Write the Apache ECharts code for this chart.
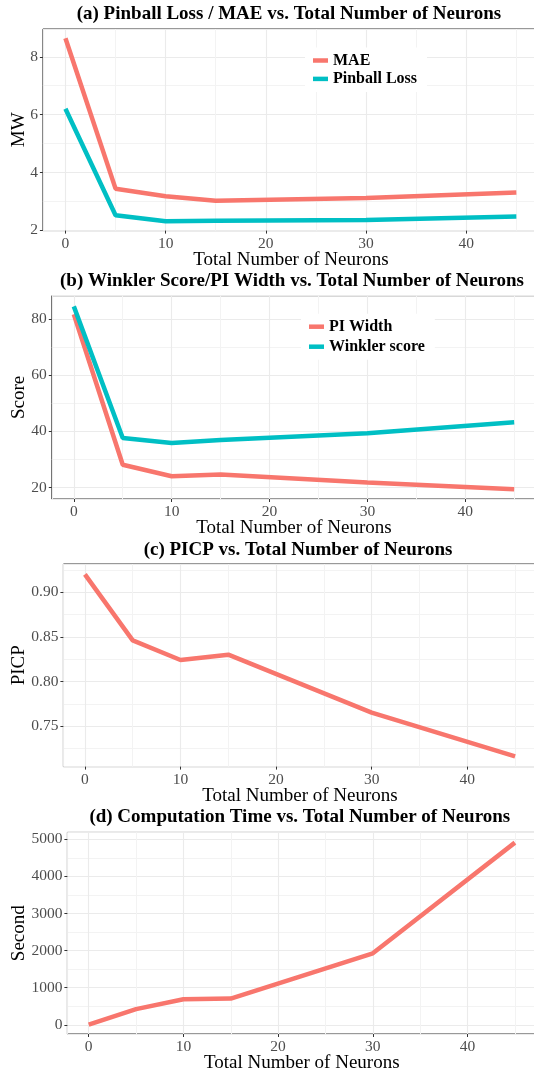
<!DOCTYPE html>
<html>
<head>
<meta charset="utf-8">
<script src="https://cdn.jsdelivr.net/npm/echarts@6/dist/echarts.min.js"></script>
<style>
html,body{margin:0;padding:0;background:#fff}
#main{width:534px;height:1070px}
</style>
</head>
<body>
<div id="main"></div>
<script>
// values
var neurons = [0, 5, 10, 15, 30, 45];
var mae = [8.64, 3.44, 3.18, 3.02, 3.12, 3.31];
var pinball = [6.20, 2.52, 2.31, 2.33, 2.36, 2.48];
var piWidth = [81.6, 28.1, 24.0, 24.6, 21.8, 19.4];
var winkler = [84.4, 37.6, 35.8, 36.9, 39.3, 43.2];
var picp = [0.920, 0.846, 0.824, 0.830, 0.765, 0.716];
var compTime = [5, 421, 688, 707, 1926, 4908];

var titles = [
  '(a) Pinball Loss / MAE vs. Total Number of Neurons',
  '(b) Winkler Score/PI Width vs. Total Number of Neurons',
  '(c) PICP vs. Total Number of Neurons',
  '(d) Computation Time vs. Total Number of Neurons'
];
var xName = 'Total Number of Neurons';
var yNames = ['MW', 'Score', 'PICP', 'Second'];

var RED = '#F8766D', CYAN = '#00BFC4';
var FONT = '"Liberation Serif", "Times New Roman", serif';

// panel boxes [left, top, width, height], y ranges, split numbers
var boxes = [
  [42.9, 29, 496, 201.6],
  [51.8, 295.7, 484.4, 203.3],
  [63.4, 564, 473.2, 202.6],
  [67.4, 832.4, 468.8, 201.6]
];
var yRanges = [[1.99, 8.96], [15.9, 88.2], [0.7046, 0.9316], [-248, 5183]];
var ySplits = [3, 4, 5, 5];
var titleTops = [4.8, 271.8, 540.8, 807.5];

function pairs(ys) {
  return neurons.map(function (x, i) { return [x, ys[i]]; });
}

var grids = [], xAxes = [], yAxes = [], titleList = [];
boxes.forEach(function (b, i) {
  grids.push({
    left: b[0], top: b[1], width: b[2], height: b[3],
    show: true, backgroundColor: '#fff', borderColor: '#333', borderWidth: 1,
    containLabel: false, outerBoundsMode: 'none'
  });
  titleList.push({
    text: titles[i], left: b[0] + b[2] / 2 - 2, top: titleTops[i], textAlign: 'center', padding: 0,
    textStyle: { fontFamily: FONT, fontWeight: 'bold', fontSize: 19, color: '#000' }
  });
  xAxes.push({
    gridIndex: i, type: 'value', min: -2.25, max: 47.25, splitNumber: 5,
    name: xName, nameLocation: 'middle', nameGap: 20, nameMoveOverlap: false,
    nameTextStyle: { fontFamily: FONT, fontSize: 19, color: '#000' },
    axisLine: { show: false, onZero: false },
    axisTick: { show: true, length: 3, lineStyle: { color: '#333' } },
    axisLabel: { margin: 5, fontFamily: FONT, fontSize: 15.5, color: '#4D4D4D',
      showMinLabel: false, showMaxLabel: false,
      formatter: function (v) { return String(v); } },
    splitLine: { show: true, lineStyle: { color: '#EBEBEB', width: 1.1 } },
    minorTick: { show: false, splitNumber: 2 },
    minorSplitLine: { show: true, lineStyle: { color: '#F3F3F3', width: 1 } }
  });
  yAxes.push({
    gridIndex: i, type: 'value', min: yRanges[i][0], max: yRanges[i][1], splitNumber: ySplits[i],
    name: yNames[i], nameLocation: 'middle', nameGap: b[0] - 28.2, nameMoveOverlap: false,
    nameTextStyle: { fontFamily: FONT, fontSize: 19, color: '#000' },
    axisLine: { show: false, onZero: false },
    axisTick: { show: true, length: 3, lineStyle: { color: '#333' } },
    axisLabel: { margin: 5, fontFamily: FONT, fontSize: 15.5, color: '#4D4D4D',
      showMinLabel: false, showMaxLabel: false,
      formatter: function (v) { return i === 2 ? v.toFixed(2) : String(v); } },
    splitLine: { show: true, lineStyle: { color: '#EBEBEB', width: 1.1 } },
    minorTick: { show: false, splitNumber: 2 },
    minorSplitLine: { show: true, lineStyle: { color: '#F3F3F3', width: 1 } }
  });
});

function line(name, idx, ys, color) {
  return {
    name: name, type: 'line', xAxisIndex: idx, yAxisIndex: idx,
    data: pairs(ys), symbol: 'none', showSymbol: false, silent: true,
    color: color, lineStyle: { color: color, width: 4.5 }, z: 3
  };
}

var legendText = { fontFamily: FONT, fontWeight: 'bold', fontSize: 16, color: '#000' };

var myChart = echarts.init(document.getElementById('main'), null, { renderer: 'canvas' });
var option = {
  animation: false,
  backgroundColor: '#fff',
  title: titleList,
  grid: grids,
  xAxis: xAxes,
  yAxis: yAxes,
  legend: [
    { data: ['MAE', 'Pinball Loss'], orient: 'vertical', left: 305, top: 47.5,
      padding: [5, 10, 5, 8], itemGap: 2.4, icon: 'rect', itemWidth: 15, itemHeight: 4.5,
      backgroundColor: '#fff', textStyle: legendText, selectedMode: false },
    { data: ['PI Width', 'Winkler score'], orient: 'vertical', left: 301, top: 313.7,
      padding: [5, 10, 5, 8], itemGap: 4, icon: 'rect', itemWidth: 15, itemHeight: 4.5,
      backgroundColor: '#fff', textStyle: legendText, selectedMode: false }
  ],
  series: [
    line('MAE', 0, mae, RED),
    line('Pinball Loss', 0, pinball, CYAN),
    line('PI Width', 1, piWidth, RED),
    line('Winkler score', 1, winkler, CYAN),
    line('PICP', 2, picp, RED),
    line('Computation Time', 3, compTime, RED)
  ]
};
myChart.setOption(option);
</script>
</body>
</html>
